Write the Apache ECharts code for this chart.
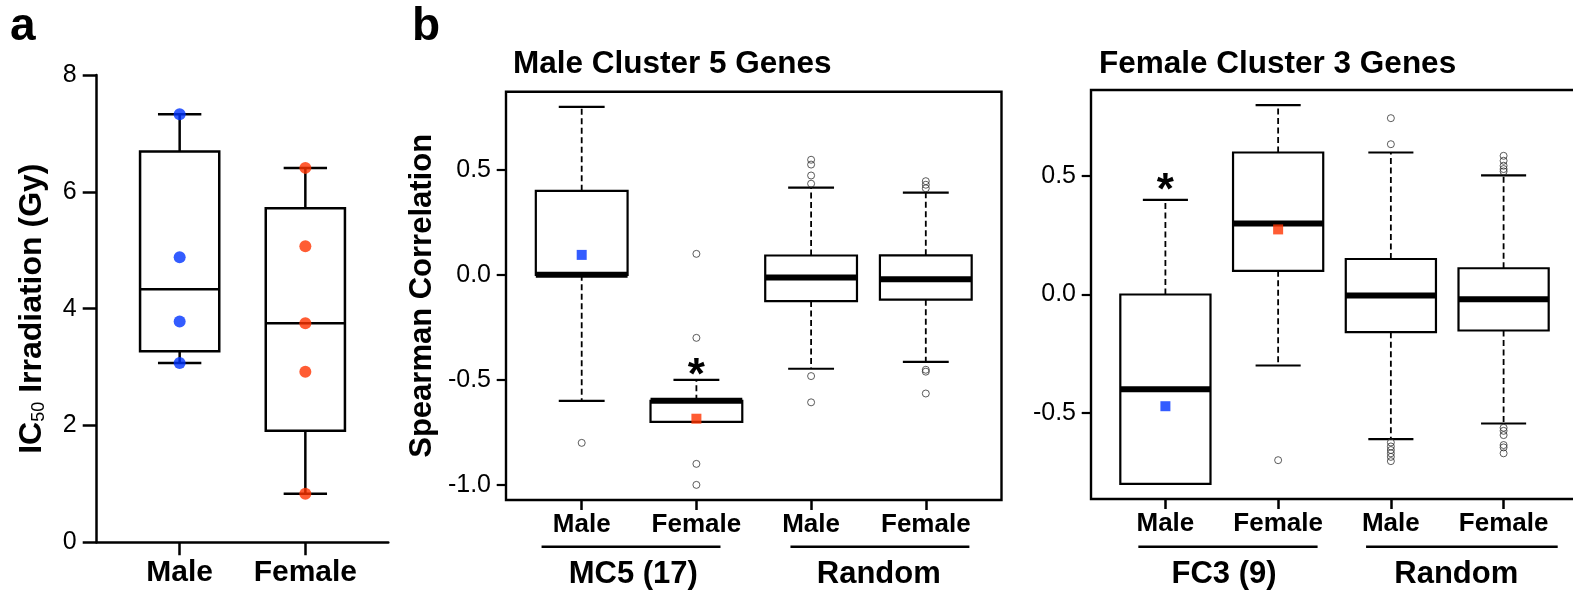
<!DOCTYPE html>
<html>
<head>
<meta charset="utf-8">
<script src="https://cdn.jsdelivr.net/npm/echarts@6/dist/echarts.min.js"></script>
<style>
html,body{margin:0;padding:0;background:#fff;}
#chart{width:1573px;height:592px;}
</style>
</head>
<body>
<div id="chart"></div>
<script>
// ================= DATA =================
// Panel a : IC50 irradiation per cell line
const aCategories = ['Male', 'Female'];
const aMaleIC50 = [7.33, 4.88, 3.78, 3.07];
const aFemaleIC50 = [6.41, 5.07, 3.75, 2.92, 0.83];
// box summaries: [min, q1, median, q3, max]
const aBoxStats = [
  [3.07, 3.27, 4.33, 6.69, 7.33],
  [0.83, 1.91, 3.75, 5.72, 6.41]
];
const aYTicks = [0, 2, 4, 6, 8];

// Panel b (left) : Male Cluster 5 genes
const bCategories = ['Male', 'Female', 'Male', 'Female'];
const mc5BoxStats = [
  [-0.60, 0.00, 0.00, 0.40, 0.80],
  [-0.70, -0.70, -0.60, -0.60, -0.50],
  [-0.447, -0.125, -0.013, 0.092, 0.415],
  [-0.414, -0.118, -0.021, 0.093, 0.391]
];
const mc5Outliers = [
  [-0.80],
  [0.10, -0.30, -0.90, -1.00],
  [0.548, 0.525, 0.473, 0.434, -0.482, -0.607],
  [0.446, 0.429, 0.412, -0.452, -0.461, -0.565]
];
const mc5MaleMarker = 0.095;
const mc5FemaleMarker = -0.685;
const mc5YTicks = [-1.0, -0.5, 0.0, 0.5];
const mc5Groups = ['MC5 (17)', 'Random'];
const mc5Title = 'Male Cluster 5 Genes';

// Panel b (right) : Female Cluster 3 genes
const fc3BoxStats = [
  [-0.80, -0.80, -0.40, 0.00, 0.40],
  [-0.30, 0.10, 0.30, 0.60, 0.80],
  [-0.611, -0.159, -0.004, 0.150, 0.600],
  [-0.545, -0.152, -0.020, 0.111, 0.503]
];
const fc3Outliers = [
  [],
  [-0.70],
  [0.745, 0.635, -0.625, -0.642, -0.657, -0.671, -0.686, -0.704],
  [0.586, 0.565, 0.544, 0.530, 0.520, -0.563, -0.576, -0.594, -0.636, -0.646, -0.671]
];
const fc3MaleMarker = -0.472;
const fc3FemaleMarker = 0.275;
const fc3YTicks = [-0.5, 0.0, 0.5];
const fc3Groups = ['FC3 (9)', 'Random'];
const fc3Title = 'Female Cluster 3 Genes';

// ================= LAYOUT / STYLE =================
const FONT = '"Liberation Sans", Arial, Helvetica, sans-serif';
const BLUE = '#0033ff';
const RED = '#ff3300';
// significance stars [category position, value]
const mc5Star = [[2, -0.435]];
const fc3Star = [[1, 0.477]];
// group bracket spans [start, end, label centre] in category units
const mc5GroupSpans = [[0.65, 2.21, 1.45], [2.82, 4.38, 3.59]];
const fc3GroupSpans = [[0.76, 2.35, 1.52], [2.78, 4.48, 3.58]];

function makeBoxRenderer(cfg) {
  return function (params, api) {
    const x = api.value(0);
    const mn = api.value(1), q1 = api.value(2), md = api.value(3), q3 = api.value(4), mx = api.value(5);
    const pMd = api.coord([x, md]);
    const px = pMd[0];
    const yMin = api.coord([x, mn])[1];
    const yQ1 = api.coord([x, q1])[1];
    const yQ3 = api.coord([x, q3])[1];
    const yMax = api.coord([x, mx])[1];
    const hb = api.size([cfg.boxWidth, 0])[0] / 2;
    const hc = api.size([cfg.capWidth, 0])[0] / 2;
    const ws = {stroke: '#000', lineWidth: cfg.whiskerLW, lineDash: cfg.dash || null};
    const cs = {stroke: '#000', lineWidth: cfg.capLW};
    const children = [];
    if (mx > q3) children.push({type: 'line', shape: {x1: px, y1: yQ3, x2: px, y2: yMax}, style: ws});
    if (mn < q1) children.push({type: 'line', shape: {x1: px, y1: yQ1, x2: px, y2: yMin}, style: ws});
    children.push({type: 'line', shape: {x1: px - hc, y1: yMax, x2: px + hc, y2: yMax}, style: cs});
    children.push({type: 'line', shape: {x1: px - hc, y1: yMin, x2: px + hc, y2: yMin}, style: cs});
    children.push({type: 'rect', shape: {x: px - hb, y: yQ3, width: 2 * hb, height: yQ1 - yQ3},
      style: {fill: '#fff', stroke: '#000', lineWidth: cfg.boxLW}});
    children.push({type: 'line', shape: {x1: px - hb, y1: pMd[1], x2: px + hb, y2: pMd[1]},
      style: {stroke: '#000', lineWidth: cfg.medianLW}});
    return {type: 'group', children: children};
  };
}

function makeStarRenderer(fontSize) {
  return function (params, api) {
    const p = api.coord([api.value(0), api.value(1)]);
    return {
      type: 'text', x: p[0], y: p[1] + 0.2335 * fontSize,
      style: {text: '*', fontSize: fontSize, fontWeight: 'bold', fontFamily: FONT,
        fill: '#000', align: 'center', verticalAlign: 'middle'}
    };
  };
}

function makeGroupRenderer(labels, axisMin, lineOff, textOff) {
  return function (params, api) {
    const p1 = api.coord([api.value(0), axisMin]);
    const p2 = api.coord([api.value(1), axisMin]);
    const pc = api.coord([api.value(2), axisMin]);
    const yb = p1[1];
    return {
      type: 'group',
      children: [
        {type: 'line', shape: {x1: p1[0], y1: yb + lineOff, x2: p2[0], y2: yb + lineOff},
          style: {stroke: '#000', lineWidth: 2.5}},
        {type: 'text', x: pc[0], y: yb + textOff,
          style: {text: labels[params.dataIndex], fontSize: 31, fontWeight: 'bold', fontFamily: FONT,
            fill: '#000', align: 'center', verticalAlign: 'middle'}}
      ]
    };
  };
}

const toBoxData = stats => stats.map((s, i) => [i + 1].concat(s));
const toOutlierData = outs => outs.flatMap((arr, i) => arr.map(v => [i + 1, v]));

const bBox = {boxWidth: 0.8, capWidth: 0.4, whiskerLW: 1.8, dash: [6, 3.5], capLW: 2.2, boxLW: 2.2, medianLW: 6};
const aBox = {boxWidth: 0.63, capWidth: 0.345, whiskerLW: 2.5, dash: null, capLW: 2.5, boxLW: 2.5, medianLW: 2.5};

const MC5_MIN = -1.072, MC5_MAX = 0.872;
const FC3_MIN = -0.864, FC3_MAX = 0.864;
// right panel frame runs past the page edge: wider grid, same x scale
const B2_WIDTH = 520, B2_XMAX = 0.34 + 4.32 * B2_WIDTH / 487;

const tickLabelStyle = {fontSize: 25, color: '#000', fontFamily: FONT};

function bXAxis(gridIndex, xMax) {
  return {
    gridIndex: gridIndex, type: 'value', min: 0.34, max: xMax,
    axisLine: {show: false, onZero: false},
    splitLine: {show: false},
    axisTick: {show: true, customValues: [1, 2, 3, 4], length: 10, lineStyle: {color: '#000', width: 2.5}},
    axisLabel: {show: true, customValues: [1, 2, 3, 4], margin: 11.6,
      formatter: v => bCategories[Math.round(v) - 1],
      fontSize: 26, fontWeight: 'bold', color: '#000', fontFamily: FONT}
  };
}
function bYAxis(gridIndex, min, max, ticks, extra) {
  return Object.assign({
    gridIndex: gridIndex, type: 'value', min: min, max: max,
    axisLine: {show: false, onZero: false},
    splitLine: {show: false},
    axisTick: {show: true, customValues: ticks, length: 9.3, lineStyle: {color: '#000', width: 2.2}},
    axisLabel: Object.assign({show: true, customValues: ticks, margin: 15,
      formatter: v => v.toFixed(1)}, tickLabelStyle)
  }, extra || {});
}

const titleStyle = {fontSize: 31.5, fontWeight: 'bold', color: '#000', fontFamily: FONT};

const option = {
  animation: false,
  backgroundColor: '#fff',
  title: [
    {text: 'a', left: 10, top: 4.4, padding: 0,
      textStyle: {fontSize: 46, fontWeight: 'bold', color: '#000', fontFamily: FONT}},
    {text: 'b', left: 412, top: 4.4, padding: 0,
      textStyle: {fontSize: 46, fontWeight: 'bold', color: '#000', fontFamily: FONT}},
    {text: mc5Title, left: 513, top: 48.3, padding: 0, textStyle: titleStyle},
    {text: fc3Title, left: 1099, top: 48.3, padding: 0, textStyle: titleStyle}
  ],
  grid: [
    {left: 96.7, top: 75, width: 291.6, height: 467.3, show: false, outerBoundsMode: 'none', containLabel: false},
    {left: 506, top: 91.7, width: 495.5, height: 408.3, show: true, outerBoundsMode: 'none', containLabel: false,
      borderColor: '#000', borderWidth: 2.4, backgroundColor: 'transparent'},
    {left: 1091, top: 90, width: B2_WIDTH, height: 409, show: true, outerBoundsMode: 'none', containLabel: false,
      borderColor: '#000', borderWidth: 2.4, backgroundColor: 'transparent'}
  ],
  xAxis: [
    {
      gridIndex: 0, type: 'value', min: 0.34, max: 2.66,
      axisLine: {show: true, onZero: false, lineStyle: {color: '#000', width: 2.5}},
      splitLine: {show: false},
      axisTick: {show: true, customValues: [1, 2], length: 13, lineStyle: {color: '#000', width: 2.5}},
      axisLabel: {show: true, customValues: [1, 2], margin: 15.5,
        formatter: v => aCategories[Math.round(v) - 1],
        fontSize: 30, fontWeight: 'bold', color: '#000', fontFamily: FONT}
    },
    bXAxis(1, 4.66),
    bXAxis(2, B2_XMAX)
  ],
  yAxis: [
    {
      gridIndex: 0, type: 'value', min: 0, max: 8, interval: 2,
      axisLine: {show: true, onZero: false, lineStyle: {color: '#000', width: 2.5}},
      splitLine: {show: false},
      axisTick: {show: true, length: 14, lineStyle: {color: '#000', width: 2.5}},
      axisLabel: Object.assign({margin: 20, customValues: aYTicks}, tickLabelStyle),
      name: '{m|IC}{s|50}{m| Irradiation (Gy)}',
      nameLocation: 'middle', nameGap: 49,
      nameTextStyle: {
        fontSize: 32, fontWeight: 'bold', color: '#000', fontFamily: FONT,
        rich: {
          m: {fontSize: 32, fontWeight: 'bold', color: '#000', fontFamily: FONT},
          s: {fontSize: 18, fontWeight: 'normal', color: '#000', fontFamily: FONT,
            verticalAlign: 'bottom', lineHeight: 20}
        }
      }
    },
    bYAxis(1, MC5_MIN, MC5_MAX, mc5YTicks, {
      name: 'Spearman Correlation', nameLocation: 'middle', nameGap: 68,
      nameTextStyle: {fontSize: 31, fontWeight: 'bold', color: '#000', fontFamily: FONT}
    }),
    bYAxis(2, FC3_MIN, FC3_MAX, fc3YTicks)
  ],
  series: [
    // ---- panel a ----
    {type: 'custom', xAxisIndex: 0, yAxisIndex: 0, renderItem: makeBoxRenderer(aBox),
      data: toBoxData(aBoxStats), z: 2},
    {type: 'scatter', xAxisIndex: 0, yAxisIndex: 0, symbol: 'circle', symbolSize: 12,
      itemStyle: {color: BLUE}, data: aMaleIC50.map(v => [1, v]), z: 5},
    {type: 'scatter', xAxisIndex: 0, yAxisIndex: 0, symbol: 'circle', symbolSize: 12,
      itemStyle: {color: RED}, data: aFemaleIC50.map(v => [2, v]), z: 5},
    // ---- panel b left ----
    {type: 'custom', xAxisIndex: 1, yAxisIndex: 1, renderItem: makeBoxRenderer(bBox),
      data: toBoxData(mc5BoxStats), z: 2},
    {type: 'scatter', xAxisIndex: 1, yAxisIndex: 1, symbol: 'circle', symbolSize: 7,
      itemStyle: {color: 'rgba(255,255,255,0)', borderColor: '#333', borderWidth: 1},
      data: toOutlierData(mc5Outliers), z: 4},
    {type: 'scatter', xAxisIndex: 1, yAxisIndex: 1, symbol: 'rect', symbolSize: 10,
      itemStyle: {color: BLUE}, data: [[1, mc5MaleMarker]], z: 6},
    {type: 'scatter', xAxisIndex: 1, yAxisIndex: 1, symbol: 'rect', symbolSize: 10,
      itemStyle: {color: RED}, data: [[2, mc5FemaleMarker]], z: 6},
    {type: 'custom', xAxisIndex: 1, yAxisIndex: 1, clip: false, renderItem: makeStarRenderer(44),
      data: mc5Star, z: 6},
    {type: 'custom', xAxisIndex: 1, yAxisIndex: 1, clip: false,
      renderItem: makeGroupRenderer(mc5Groups, MC5_MIN, 46.7, 74.3),
      data: mc5GroupSpans, z: 6},
    // ---- panel b right ----
    {type: 'custom', xAxisIndex: 2, yAxisIndex: 2, renderItem: makeBoxRenderer(bBox),
      data: toBoxData(fc3BoxStats), z: 2},
    {type: 'scatter', xAxisIndex: 2, yAxisIndex: 2, symbol: 'circle', symbolSize: 7,
      itemStyle: {color: 'rgba(255,255,255,0)', borderColor: '#333', borderWidth: 1},
      data: toOutlierData(fc3Outliers), z: 4},
    {type: 'scatter', xAxisIndex: 2, yAxisIndex: 2, symbol: 'rect', symbolSize: 10,
      itemStyle: {color: BLUE}, data: [[1, fc3MaleMarker]], z: 6},
    {type: 'scatter', xAxisIndex: 2, yAxisIndex: 2, symbol: 'rect', symbolSize: 10,
      itemStyle: {color: RED}, data: [[2, fc3FemaleMarker]], z: 6},
    {type: 'custom', xAxisIndex: 2, yAxisIndex: 2, clip: false, renderItem: makeStarRenderer(44),
      data: fc3Star, z: 6},
    {type: 'custom', xAxisIndex: 2, yAxisIndex: 2, clip: false,
      renderItem: makeGroupRenderer(fc3Groups, FC3_MIN, 47.7, 75.3),
      data: fc3GroupSpans, z: 6}
  ]
};

const chart = echarts.init(document.getElementById('chart'), null, {renderer: 'canvas'});
chart.setOption(option);
</script>
</body>
</html>
